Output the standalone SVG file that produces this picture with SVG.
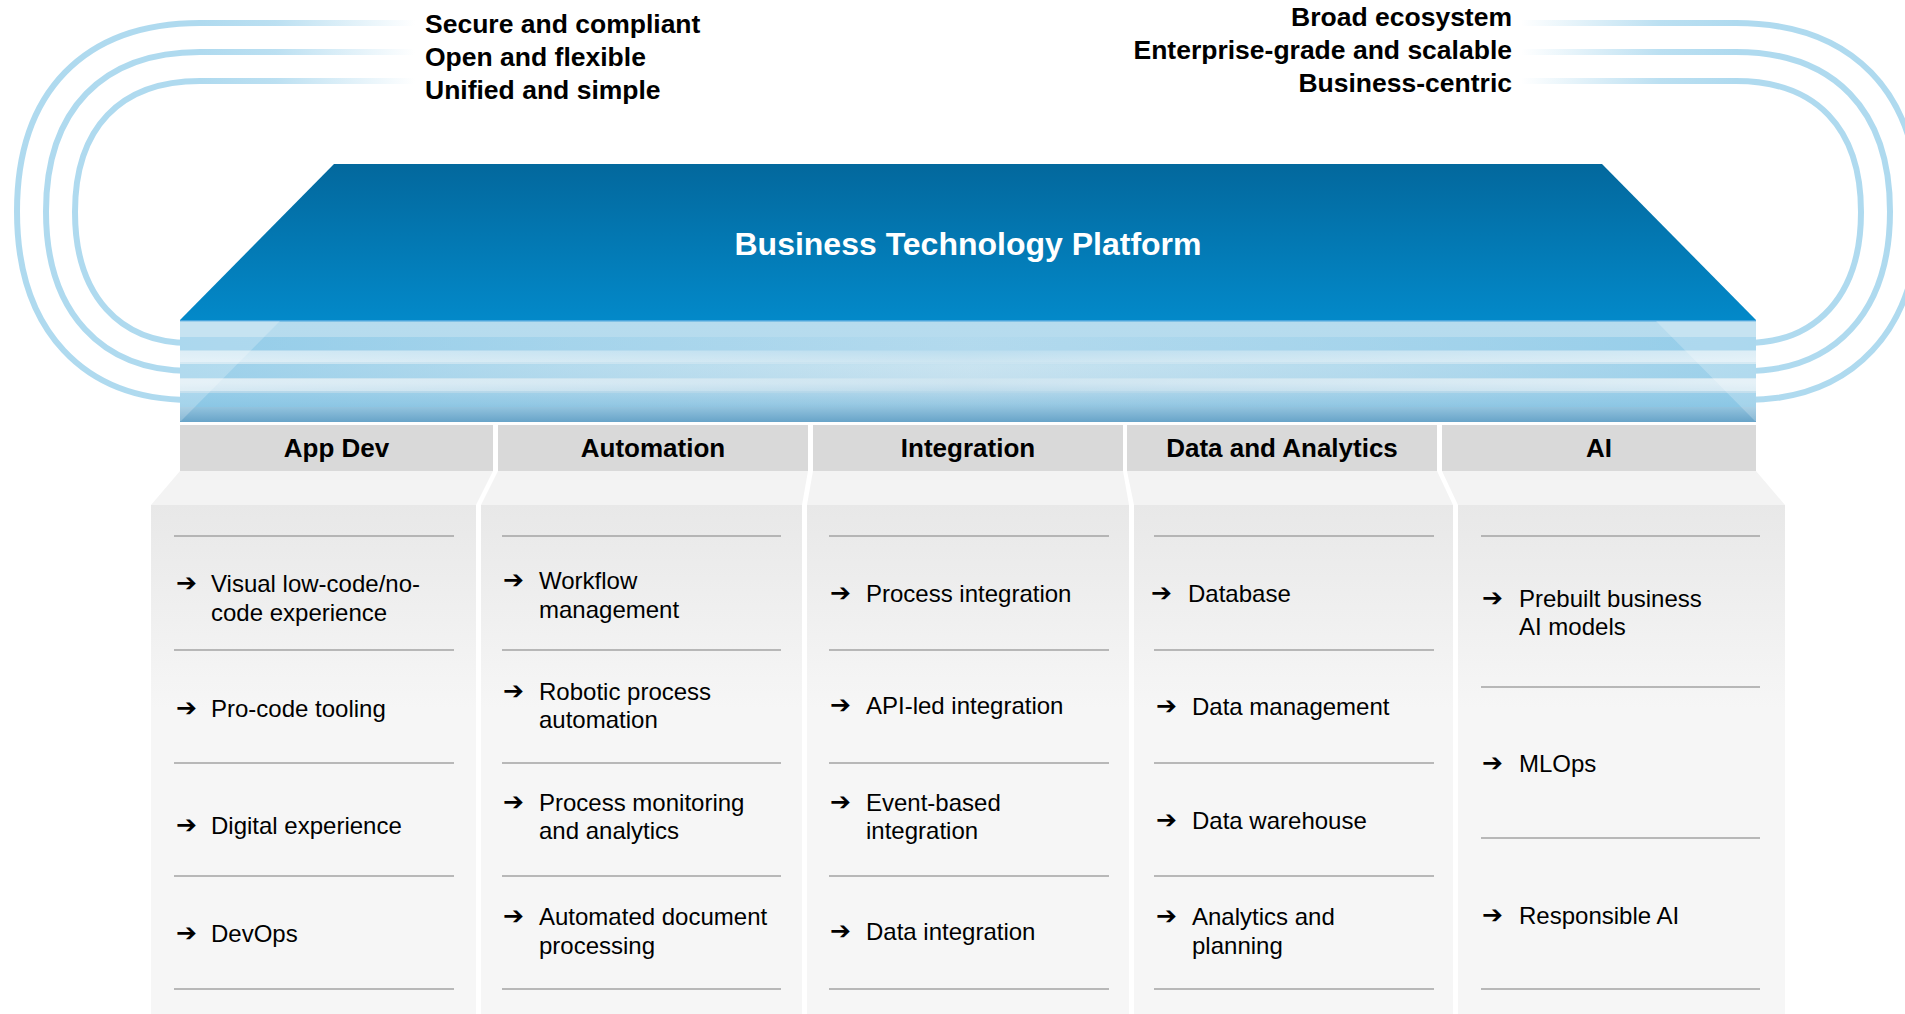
<svg xmlns="http://www.w3.org/2000/svg" width="1905" height="1014" viewBox="0 0 1905 1014">
  <defs>
    <linearGradient id="topFace" x1="0" y1="164" x2="0" y2="320" gradientUnits="userSpaceOnUse">
      <stop offset="0" stop-color="#03689d"/>
      <stop offset="1" stop-color="#0389c9"/>
    </linearGradient>
    <linearGradient id="bandBase" x1="0" y1="320" x2="0" y2="422" gradientUnits="userSpaceOnUse">
      <stop offset="0" stop-color="#b7dcee"/>
      <stop offset="0.3" stop-color="#b6dbee"/>
      <stop offset="0.45" stop-color="#cfe6f1"/>
      <stop offset="0.62" stop-color="#c9e2ef"/>
      <stop offset="0.82" stop-color="#9ccae3"/>
      <stop offset="1" stop-color="#68a4c8"/>
    </linearGradient>
    <linearGradient id="streakH" x1="180" y1="0" x2="1756" y2="0" gradientUnits="userSpaceOnUse">
      <stop offset="0" stop-color="#86c7e7" stop-opacity="0.7"/>
      <stop offset="0.25" stop-color="#86c7e7" stop-opacity="0.35"/>
      <stop offset="0.5" stop-color="#86c7e7" stop-opacity="0.08"/>
      <stop offset="0.75" stop-color="#86c7e7" stop-opacity="0.35"/>
      <stop offset="1" stop-color="#86c7e7" stop-opacity="0.7"/>
    </linearGradient>
    <linearGradient id="lightH" x1="180" y1="0" x2="1756" y2="0" gradientUnits="userSpaceOnUse">
      <stop offset="0" stop-color="#ffffff" stop-opacity="0.4"/>
      <stop offset="0.5" stop-color="#ffffff" stop-opacity="0.08"/>
      <stop offset="1" stop-color="#ffffff" stop-opacity="0.4"/>
    </linearGradient>
    <linearGradient id="arcFade" x1="200" y1="0" x2="415" y2="0" gradientUnits="userSpaceOnUse">
      <stop offset="0" stop-color="#afdaef" stop-opacity="1"/>
      <stop offset="0.35" stop-color="#afdaef" stop-opacity="0.85"/>
      <stop offset="1" stop-color="#afdaef" stop-opacity="0"/>
    </linearGradient>
    <linearGradient id="body" x1="0" y1="505" x2="0" y2="1014" gradientUnits="userSpaceOnUse">
      <stop offset="0" stop-color="#e8e8e8"/>
      <stop offset="0.4" stop-color="#f6f6f6"/>
      <stop offset="1" stop-color="#f6f6f6"/>
    </linearGradient>
    <style>
      .lbl { font-family: "Liberation Sans", Arial, sans-serif; font-weight: bold; font-size: 26.5px; fill: #000; }
      .hdr { fill: #d9d9d9; }
      .hdrt { font-family: "Liberation Sans", Arial, sans-serif; font-weight: bold; font-size: 26px; fill: #000; text-anchor: middle; }
      .trans { fill: #f3f3f3; }
      .bodyr { fill: url(#body); }
      .div { stroke: #a3a3a3; stroke-width: 1.6; }
      .item { font-family: "Liberation Sans", Arial, sans-serif; font-size: 24px; fill: #000; }
      .arr { font-family: "DejaVu Sans", sans-serif; font-weight: bold; font-size: 25px; fill: #000; }
      .arc { fill: none; stroke: url(#arcFade); stroke-width: 6; }
    </style>
  </defs>

  <rect width="1905" height="1014" fill="#ffffff"/>

  <!-- decorative arcs -->
  <g id="arcs">
    <g id="arcs-left">
      <path class="arc" d="M 415 23 H 200 C 84 23 17 92 17 211.5 C 17 331 84 400 190 400 H 200"/>
      <path class="arc" d="M 415 52 H 200 C 102 52 46 110 46 211.5 C 46 313 102 371 190 371 H 200"/>
      <path class="arc" d="M 415 81 H 200 C 120 81 75 128 75 212 C 75 296 120 343 190 343 H 200"/>
    </g>
    <g id="arcs-right" transform="translate(1936,0) scale(-1,1)">
      <path class="arc" d="M 415 23 H 200 C 84 23 17 92 17 211.5 C 17 331 84 400 190 400 H 200"/>
      <path class="arc" d="M 415 52 H 200 C 102 52 46 110 46 211.5 C 46 313 102 371 190 371 H 200"/>
      <path class="arc" d="M 415 81 H 200 C 120 81 75 128 75 212 C 75 296 120 343 190 343 H 200"/>
    </g>
  </g>

  <!-- platform -->
  <g id="platform">
    <polygon points="334,164 1602,164 1756,320 180,320" fill="url(#topFace)"/>
    <rect x="180" y="320" width="1576" height="102" fill="url(#bandBase)"/>
    <rect x="180" y="320" width="1576" height="1.5" fill="#4aa6dc"/>
    <rect x="180" y="337" width="1576" height="13" fill="url(#streakH)"/>
    <rect x="180" y="364" width="1576" height="14" fill="url(#streakH)"/>
    <rect x="180" y="393" width="1576" height="14" fill="url(#streakH)"/>
    <rect x="180" y="351" width="1576" height="11" fill="url(#lightH)"/>
    <rect x="180" y="379" width="1576" height="12" fill="url(#lightH)"/>
    <polygon points="180,321 280,321 181,421 180,421" fill="#ffffff" opacity="0.22"/>
    <polygon points="1656,321 1756,321 1756,421 1755,421" fill="#ffffff" opacity="0.22"/>
    <text x="968" y="255" text-anchor="middle" font-family="'Liberation Sans', Arial, sans-serif" font-weight="bold" font-size="32" fill="#ffffff">Business Technology Platform</text>
  </g>

  <!-- top labels -->
  <g id="labels-left">
    <text class="lbl" x="425" y="33">Secure and compliant</text>
    <text class="lbl" x="425" y="66">Open and flexible</text>
    <text class="lbl" x="425" y="99">Unified and simple</text>
  </g>
  <g id="labels-right" text-anchor="end">
    <text class="lbl" x="1512" y="26">Broad ecosystem</text>
    <text class="lbl" x="1512" y="59">Enterprise-grade and scalable</text>
    <text class="lbl" x="1512" y="92">Business-centric</text>
  </g>

  <!-- column: App Dev -->
  <g id="col-appdev">
    <rect class="hdr" x="180" y="425" width="313" height="46"/>
    <text class="hdrt" x="336.5" y="457">App Dev</text>
    <polygon class="trans" points="180,471 493,471 476,505 151,505"/>
    <rect class="bodyr" x="151" y="505" width="325" height="509"/>
    <line class="div" x1="174" y1="536" x2="454" y2="536"/>
    <line class="div" x1="174" y1="650" x2="454" y2="650"/>
    <line class="div" x1="174" y1="763" x2="454" y2="763"/>
    <line class="div" x1="174" y1="876" x2="454" y2="876"/>
    <line class="div" x1="174" y1="989" x2="454" y2="989"/>
    <text class="arr" x="176" y="591">➔</text>
    <text class="item" x="211" y="592">Visual low-code/no-<tspan x="211" y="621">code experience</tspan></text>
    <text class="arr" x="176" y="716">➔</text>
    <text class="item" x="211" y="717">Pro-code tooling</text>
    <text class="arr" x="176" y="833">➔</text>
    <text class="item" x="211" y="834">Digital experience</text>
    <text class="arr" x="176" y="941">➔</text>
    <text class="item" x="211" y="942">DevOps</text>
  </g>

  <!-- column: Automation -->
  <g id="col-automation">
    <rect class="hdr" x="498" y="425" width="310" height="46"/>
    <text class="hdrt" x="653" y="457">Automation</text>
    <polygon class="trans" points="498,471 808,471 802,505 481,505"/>
    <rect class="bodyr" x="481" y="505" width="321" height="509"/>
    <line class="div" x1="502" y1="536" x2="781" y2="536"/>
    <line class="div" x1="502" y1="650" x2="781" y2="650"/>
    <line class="div" x1="502" y1="763" x2="781" y2="763"/>
    <line class="div" x1="502" y1="876" x2="781" y2="876"/>
    <line class="div" x1="502" y1="989" x2="781" y2="989"/>
    <text class="arr" x="503" y="588">➔</text>
    <text class="item" x="539" y="589">Workflow<tspan x="539" y="618">management</tspan></text>
    <text class="arr" x="503" y="699">➔</text>
    <text class="item" x="539" y="700">Robotic process<tspan x="539" y="728">automation</tspan></text>
    <text class="arr" x="503" y="810">➔</text>
    <text class="item" x="539" y="811">Process monitoring<tspan x="539" y="839">and analytics</tspan></text>
    <text class="arr" x="503" y="924">➔</text>
    <text class="item" x="539" y="925">Automated document<tspan x="539" y="954">processing</tspan></text>
  </g>

  <!-- column: Integration -->
  <g id="col-integration">
    <rect class="hdr" x="813" y="425" width="310" height="46"/>
    <text class="hdrt" x="968" y="457">Integration</text>
    <polygon class="trans" points="813,471 1123,471 1129,505 807,505"/>
    <rect class="bodyr" x="807" y="505" width="322" height="509"/>
    <line class="div" x1="829" y1="536" x2="1109" y2="536"/>
    <line class="div" x1="829" y1="650" x2="1109" y2="650"/>
    <line class="div" x1="829" y1="763" x2="1109" y2="763"/>
    <line class="div" x1="829" y1="876" x2="1109" y2="876"/>
    <line class="div" x1="829" y1="989" x2="1109" y2="989"/>
    <text class="arr" x="830" y="601">➔</text>
    <text class="item" x="866" y="602">Process integration</text>
    <text class="arr" x="830" y="713">➔</text>
    <text class="item" x="866" y="714">API-led integration</text>
    <text class="arr" x="830" y="810">➔</text>
    <text class="item" x="866" y="811">Event-based<tspan x="866" y="839">integration</tspan></text>
    <text class="arr" x="830" y="939">➔</text>
    <text class="item" x="866" y="940">Data integration</text>
  </g>

  <!-- column: Data and Analytics -->
  <g id="col-data">
    <rect class="hdr" x="1127" y="425" width="310" height="46"/>
    <text class="hdrt" x="1282" y="457">Data and Analytics</text>
    <polygon class="trans" points="1127,471 1437,471 1453,505 1134,505"/>
    <rect class="bodyr" x="1134" y="505" width="319" height="509"/>
    <line class="div" x1="1154" y1="536" x2="1434" y2="536"/>
    <line class="div" x1="1154" y1="650" x2="1434" y2="650"/>
    <line class="div" x1="1154" y1="763" x2="1434" y2="763"/>
    <line class="div" x1="1154" y1="876" x2="1434" y2="876"/>
    <line class="div" x1="1154" y1="989" x2="1434" y2="989"/>
    <text class="arr" x="1151" y="601">➔</text>
    <text class="item" x="1188" y="602">Database</text>
    <text class="arr" x="1156" y="714">➔</text>
    <text class="item" x="1192" y="715">Data management</text>
    <text class="arr" x="1156" y="828">➔</text>
    <text class="item" x="1192" y="829">Data warehouse</text>
    <text class="arr" x="1156" y="924">➔</text>
    <text class="item" x="1192" y="925">Analytics and<tspan x="1192" y="954">planning</tspan></text>
  </g>

  <!-- column: AI -->
  <g id="col-ai">
    <rect class="hdr" x="1442" y="425" width="314" height="46"/>
    <text class="hdrt" x="1599" y="457">AI</text>
    <polygon class="trans" points="1442,471 1756,471 1785,505 1458,505"/>
    <rect class="bodyr" x="1458" y="505" width="327" height="509"/>
    <line class="div" x1="1481" y1="536" x2="1760" y2="536"/>
    <line class="div" x1="1481" y1="687" x2="1760" y2="687"/>
    <line class="div" x1="1481" y1="838" x2="1760" y2="838"/>
    <line class="div" x1="1481" y1="989" x2="1760" y2="989"/>
    <text class="arr" x="1482" y="606">➔</text>
    <text class="item" x="1519" y="607">Prebuilt business<tspan x="1519" y="635">AI models</tspan></text>
    <text class="arr" x="1482" y="771">➔</text>
    <text class="item" x="1519" y="772">MLOps</text>
    <text class="arr" x="1482" y="923">➔</text>
    <text class="item" x="1519" y="924">Responsible AI</text>
  </g>

  <g id="connectors"/>
</svg>
